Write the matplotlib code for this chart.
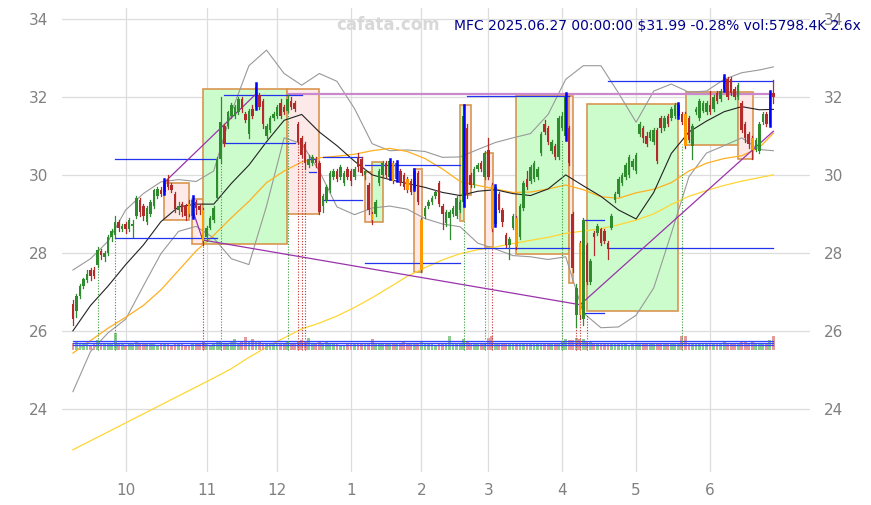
import matplotlib
matplotlib.use('Agg')
import matplotlib.pyplot as plt
from matplotlib.patches import Rectangle

# ---------------- data (trading-day index 0 = 2024-09-10 ... 199 = 2025-06-27) -------------
opens = [26.70, 26.50, 26.90, 27.15, 27.30, 27.55, 27.55, 27.70, 28.05, 27.90,
         28.00, 28.40, 28.45, 28.80, 28.60, 28.75, 28.60, 28.70, 28.95, 29.35,
         29.20, 28.80, 29.00, 29.20, 29.45, 29.60, 29.55, 29.90, 29.75, 29.50,
         29.10, 29.25, 29.20, 29.25, 28.95, 29.30, 29.20, 29.10, 28.40, 28.65,
         28.85, 29.40, 30.40, 31.25, 31.25, 31.50, 31.50, 31.60, 31.95, 31.55,
         31.05, 31.70, 31.75, 32.05, 31.90, 31.00, 31.15, 31.45, 31.50, 31.85,
         31.75, 31.65, 31.90, 31.85, 31.30, 30.95, 30.80, 30.25, 30.30, 30.40,
         30.30, 29.20, 29.35, 29.60, 29.95, 30.10, 29.95, 29.80, 30.15, 30.10,
         29.95, 30.45, 30.40, 30.00, 29.75, 29.00, 29.00, 29.80, 30.00, 30.30,
         29.95, 30.30, 29.90, 30.10, 30.00, 29.90, 29.85, 29.65, 30.05, 27.55,
         28.95, 29.20, 29.30, 29.45, 29.80, 29.20, 28.76, 28.90, 29.00, 28.95,
         29.10, 29.30, 31.20, 30.00, 29.75, 30.15, 30.30, 29.95, 30.65, 29.75,
         28.75, 29.50, 29.10, 28.45, 28.20, 28.65, 28.90, 28.40, 29.15, 29.90,
         29.85, 29.90, 29.95, 30.55, 31.30, 31.20, 30.60, 30.75, 30.45, 31.20,
         31.00, 31.20, 29.00, 26.40, 28.25, 26.30, 28.20, 27.25, 28.50, 28.50,
         28.60, 28.55, 28.25, 28.65, 29.35, 29.50, 29.80, 29.95, 30.00, 30.20,
         30.10, 31.05, 31.20, 31.00, 30.95, 30.85, 31.15, 31.45, 31.20, 31.50,
         31.45, 31.50, 31.50, 31.55, 31.55, 31.45, 30.75, 31.60, 31.45, 31.65,
         31.60, 31.80, 31.70, 32.10, 31.95, 32.20, 32.45, 32.45, 32.20, 32.00,
         31.85, 31.30, 31.05, 30.95, 30.65, 30.60, 31.35, 31.55, 31.30, 32.10]
highs = [26.80, 26.95, 27.20, 27.35, 27.55, 27.60, 27.65, 28.15, 28.10, 28.05,
         28.45, 28.60, 28.95, 28.85, 28.75, 28.80, 28.90, 28.85, 29.45, 29.40,
         29.25, 29.20, 29.35, 29.65, 29.70, 29.70, 29.90, 30.00, 29.80, 29.55,
         29.30, 29.30, 29.25, 29.35, 29.45, 29.35, 29.25, 29.15, 28.70, 28.95,
         29.20, 30.45, 32.00, 31.30, 31.65, 31.85, 31.80, 32.00, 32.00, 31.60,
         31.70, 31.80, 32.35, 32.10, 31.95, 31.30, 31.50, 31.60, 31.80, 31.95,
         31.80, 32.05, 32.00, 31.90, 31.35, 31.00, 30.85, 30.50, 30.50, 30.45,
         30.35, 29.50, 29.75, 30.10, 30.15, 30.15, 30.25, 30.10, 30.20, 30.15,
         30.20, 30.55, 30.45, 30.15, 29.80, 29.05, 29.35, 30.15, 30.35, 30.35,
         30.40, 30.35, 30.35, 30.15, 30.05, 29.95, 29.90, 30.15, 30.10, 28.90,
         29.20, 29.35, 29.45, 29.60, 29.85, 29.25, 29.10, 29.10, 29.20, 29.45,
         29.35, 31.80, 31.30, 30.05, 30.20, 30.30, 30.35, 30.60, 30.95, 29.80,
         29.75, 29.55, 29.15, 28.50, 28.40, 29.00, 28.95, 29.25, 29.85, 30.10,
         30.25, 30.35, 30.20, 31.10, 31.40, 31.25, 30.90, 30.80, 31.50, 31.60,
         32.10, 31.25, 29.05, 27.20, 28.30, 28.90, 28.25, 27.85, 28.55, 28.75,
         28.65, 28.60, 28.30, 29.00, 29.55, 29.95, 30.05, 30.30, 30.50, 30.40,
         30.55, 31.35, 31.25, 31.10, 31.15, 31.20, 31.20, 31.50, 31.50, 31.55,
         31.75, 31.85, 31.85, 31.60, 31.60, 31.50, 31.30, 31.75, 31.95, 31.90,
         31.90, 32.15, 32.05, 32.15, 32.20, 32.55, 32.50, 32.50, 32.25, 32.35,
         31.90, 31.35, 31.10, 31.00, 30.95, 31.35, 31.60, 31.60, 32.15, 32.43]
lows = [26.15, 26.35, 26.85, 27.10, 27.25, 27.30, 27.35, 27.65, 27.85, 27.80,
        27.95, 28.30, 28.40, 28.55, 28.55, 28.50, 28.55, 28.40, 28.90, 28.95,
        28.85, 28.75, 28.95, 29.15, 29.40, 29.45, 29.50, 29.65, 29.55, 29.05,
        29.00, 28.95, 28.85, 28.95, 28.90, 29.00, 29.00, 28.20, 28.30, 28.60,
        28.80, 29.35, 30.30, 30.75, 31.20, 31.45, 31.45, 31.55, 31.60, 31.35,
        30.95, 31.45, 31.70, 31.70, 31.20, 30.95, 31.10, 31.40, 31.45, 31.45,
        31.55, 31.60, 31.70, 31.65, 30.80, 30.45, 30.15, 30.20, 30.25, 30.20,
        29.00, 29.05, 29.30, 29.55, 29.90, 29.85, 29.90, 29.75, 29.90, 29.75,
        29.90, 30.10, 30.00, 29.90, 29.00, 28.75, 28.95, 29.75, 29.95, 29.95,
        29.90, 29.80, 29.85, 29.75, 29.65, 29.55, 29.50, 29.60, 29.25, 27.50,
        28.90, 29.15, 29.25, 29.40, 29.20, 28.60, 28.70, 28.35, 28.95, 28.90,
        29.05, 29.20, 29.40, 29.70, 29.70, 30.10, 30.10, 29.90, 29.90, 28.55,
        28.70, 29.05, 28.70, 28.15, 27.85, 28.60, 28.10, 28.35, 29.10, 29.65,
        29.80, 29.85, 29.90, 30.50, 31.05, 30.80, 30.55, 30.40, 30.40, 31.15,
        30.90, 30.25, 27.50, 26.10, 26.30, 26.15, 27.20, 27.20, 27.95, 28.45,
        28.20, 28.25, 27.85, 28.60, 29.30, 29.45, 29.75, 29.90, 29.95, 30.15,
        30.05, 31.00, 30.85, 30.75, 30.90, 30.80, 30.30, 31.10, 31.15, 31.25,
        31.40, 31.45, 31.45, 31.30, 30.70, 30.85, 30.40, 31.55, 31.40, 31.60,
        31.55, 31.55, 31.65, 31.85, 31.90, 32.15, 31.95, 32.05, 31.95, 31.95,
        31.10, 30.85, 30.70, 30.40, 30.60, 30.55, 31.30, 31.25, 31.25, 31.85]
closes = [26.30, 26.90, 27.15, 27.32, 27.45, 27.40, 27.40, 28.08, 27.95, 28.00,
          28.40, 28.55, 28.80, 28.65, 28.70, 28.60, 28.85, 28.75, 29.40, 29.05,
          28.95, 29.15, 29.30, 29.60, 29.65, 29.50, 29.80, 29.70, 29.60, 29.12,
          29.20, 29.05, 28.95, 29.00, 29.35, 29.15, 29.10, 28.30, 28.65, 28.90,
          29.15, 30.40, 31.35, 30.80, 31.60, 31.80, 31.75, 31.95, 31.70, 31.40,
          31.65, 31.50, 32.25, 31.75, 31.30, 31.25, 31.45, 31.55, 31.75, 31.50,
          31.60, 31.95, 31.75, 31.70, 30.85, 30.50, 30.30, 30.40, 30.45, 30.30,
          29.05, 29.45, 29.70, 30.05, 30.10, 29.90, 30.20, 30.05, 29.95, 29.85,
          30.15, 30.20, 30.05, 30.10, 29.10, 28.85, 29.30, 30.10, 30.30, 30.00,
          30.35, 29.85, 30.30, 29.80, 29.70, 29.60, 29.55, 30.10, 29.30, 28.85,
          29.15, 29.30, 29.40, 29.57, 29.25, 29.00, 29.05, 29.05, 29.15, 29.40,
          29.30, 31.50, 29.50, 29.75, 30.15, 30.25, 30.15, 30.55, 29.95, 28.60,
          29.70, 29.10, 28.80, 28.20, 28.35, 28.95, 28.15, 29.20, 29.80, 29.70,
          30.20, 30.30, 30.15, 31.05, 31.10, 30.85, 30.85, 30.45, 31.45, 31.50,
          32.00, 30.30, 27.60, 27.10, 26.40, 28.85, 27.25, 27.80, 28.40, 28.70,
          28.25, 28.30, 28.10, 28.95, 29.50, 29.90, 30.00, 30.25, 30.45, 30.35,
          30.50, 31.30, 30.95, 30.80, 31.10, 31.15, 30.35, 31.20, 31.45, 31.30,
          31.70, 31.80, 31.80, 31.35, 30.75, 30.90, 31.25, 31.70, 31.90, 31.85,
          31.85, 31.60, 32.00, 31.90, 32.15, 32.50, 32.00, 32.10, 32.00, 32.30,
          31.15, 30.95, 30.80, 30.65, 30.90, 31.30, 31.55, 31.30, 32.08, 31.99]
volumes = [2600, 3200, 2200, 2400, 2300, 2100, 2400, 4200, 2300, 2200,
           2600, 2400, 6800, 2500, 2300, 2100, 2200, 2400, 3000, 2600,
           2300, 2200, 2500, 2400, 2100, 2200, 2800, 2300, 2100, 2400,
           2200, 2300, 2100, 2000, 2600, 2300, 2200, 3400, 2300, 2100,
           2500, 3000, 3400, 2600, 2800, 3200, 4600, 2900, 3100, 5300,
           3000, 4600, 3600, 3300, 2900, 2800, 2600, 2500, 2400, 2600,
           2500, 3400, 2700, 2500, 3600, 3800, 3500, 4800, 2400, 2600,
           3300, 2500, 3700, 2300, 2200, 2400, 2100, 2000, 2300, 2500,
           2200, 2400, 2300, 2200, 2600, 4300, 2400, 2300, 2500, 2200,
           2400, 2600, 2300, 2200, 3200, 2300, 2400, 2500, 2600, 3600,
           2400, 2300, 2200, 2100, 2500, 2300, 2400, 5700, 2300, 2400,
           2600, 4300, 3400, 2500, 2300, 2200, 2400, 2600, 4800, 5600,
           2800, 2500, 2400, 2300, 2200, 2400, 2600, 2500, 2300, 2200,
           2400, 2300, 2200, 2500, 2400, 2300, 2200, 2400, 2600, 3000,
           4500, 3800, 4200, 4800, 4500, 4600, 3500, 3200, 2600, 2400,
           2300, 2400, 2200, 2500, 2300, 2200, 2400, 2300, 2100, 2400,
           2800, 2500, 2300, 2200, 2400, 2300, 2500, 2200, 2300, 2400,
           2200, 2300, 2800, 5700, 5500, 2600, 2300, 2200, 2400, 2300,
           2500, 2300, 2200, 2400, 2600, 3000, 2800, 2500, 2400, 2300,
           3400, 3000, 2700, 3200, 2600, 2500, 2800, 2900, 3800, 5798]

month_ticks = [15, 38, 58, 79, 99, 118, 139, 160, 181]
month_labels = ['10', '11', '12', '1', '2', '3', '4', '5', '6']

ma_idx = list(range(0, 200, 5)) + [199]
sma20 = [26.0, 26.65, 27.15, 27.7, 28.2, 28.8, 29.18, 29.25, 29.25, 29.78,
         30.25, 30.85, 31.4, 31.55, 31.1, 30.75, 30.35, 30.0, 29.88, 29.78,
         29.68, 29.55, 29.47, 29.58, 29.62, 29.52, 29.47, 29.64, 30.0, 29.72,
         29.45, 29.1, 28.87, 29.55, 30.55, 31.1, 31.38, 31.62, 31.75, 31.67, 31.68]
sma50 = [25.43, 25.75, 26.07, 26.35, 26.65, 27.05, 27.55, 28.05, 28.45, 28.9,
         29.32, 29.8, 30.1, 30.33, 30.44, 30.48, 30.53, 30.62, 30.68, 30.6,
         30.42, 30.15, 29.83, 29.73, 29.64, 29.55, 29.56, 29.64, 29.74, 29.62,
         29.44, 29.4, 29.54, 29.63, 29.8, 30.1, 30.3, 30.42, 30.49, 30.7, 31.07]
sma200 = [22.95, 23.18, 23.41, 23.64, 23.87, 24.1, 24.33, 24.56, 24.79, 25.03,
          25.32, 25.58, 25.82, 26.05, 26.2, 26.38, 26.6, 26.85, 27.12, 27.4,
          27.62, 27.82, 27.98, 28.08, 28.15, 28.24, 28.32, 28.4, 28.5, 28.56,
          28.62, 28.72, 28.84, 29.0, 29.24, 29.45, 29.6, 29.73, 29.84, 29.93, 30.0]
bb_upper = [27.56, 27.85, 28.3, 29.1, 29.52, 29.82, 29.88, 29.83, 30.1, 31.6,
            32.8, 33.2, 32.6, 32.3, 32.6, 32.4, 31.7, 30.8, 30.62, 30.64,
            30.6, 30.45, 30.46, 30.65, 30.83, 30.95, 31.06, 31.55, 32.45, 32.8,
            32.8, 32.1, 31.35, 32.15, 32.33, 32.12, 32.15, 32.45, 32.62, 32.69, 32.77]
bb_lower = [24.44, 25.47, 25.95, 26.3, 27.15, 27.98, 28.55, 28.68, 28.38, 27.85,
            27.7, 29.2, 30.95, 30.8, 30.1, 29.18, 28.98, 29.15, 29.2, 29.12,
            28.88, 28.74, 28.67, 28.25, 28.1, 27.93, 27.9, 27.83, 27.9, 26.46,
            26.08, 26.1, 26.4, 27.1, 28.5, 29.95, 30.56, 30.75, 30.95, 30.65, 30.62]

# zones: start idx, end idx, low, high, kind
zone_start = [25.9, 33.8, 36.9, 60.8, 83.0, 85.0, 96.9, 110.0, 111.1, 117.0, 125.9, 140.9, 146.0, 174.1, 188.9]
zone_end = [33.0, 36.9, 60.8, 69.9, 85.0, 88.1, 99.1, 111.1, 113.0, 119.3, 140.9, 142.0, 171.9, 188.9, 193.2]
zone_low = [28.85, 28.23, 28.23, 29.00, 28.80, 28.80, 27.50, 28.82, 29.49, 28.15, 27.97, 27.23, 26.51, 30.77, 30.41]
zone_high = [29.80, 29.38, 32.20, 32.20, 30.08, 30.33, 30.15, 31.80, 31.80, 30.56, 32.03, 32.03, 31.82, 32.13, 32.13]
zone_kind = ['bear', 'bear', 'bull', 'bear', 'bear', 'bull', 'bear', 'bull', 'bear', 'bear', 'bull', 'bear', 'bull', 'bull', 'bear']

# horizontal levels
lvl_start = [12, 12, 43, 43, 67, 67, 71, 71, 83, 83, 112, 112, 145, 145, 152, 152]
lvl_end = [41, 41, 65, 63, 69, 69, 82, 82, 110, 110, 141, 141, 151, 151, 199, 199]
lvl_price = [30.41, 28.38, 32.05, 30.82, 30.40, 30.08, 30.46, 29.36, 30.26, 27.74, 32.03, 28.12, 28.85, 26.46, 32.42, 28.12]

# trend lines (index, price)
trend1_x = [25.9, 52.3]
trend1_y = [29.80, 32.10]
trend2_x = [33.8, 36.9, 144.1, 199]
trend2_y = [29.15, 28.33, 26.67, 31.12]
resist_x = [61, 199]
resist_y = [32.07, 32.07]

# signal markers
sig_idx = [7, 12, 37, 42, 61, 64, 65, 66, 111, 117, 119, 139, 143, 144, 146, 173]
sig_top = [27.70, 28.40, 28.20, 30.30, 31.60, 30.80, 30.45, 30.15, 28.85, 28.15, 28.15, 30.90, 26.10, 26.30, 26.40, 30.80]
sig_kind = ['g', 'g', 'r', 'g', 'g', 'r', 'r', 'r', 'g', 'g', 'r', 'g', 'r', 'r', 'r', 'g']

blue_idx = [26, 34, 52, 90, 92, 97, 111, 120, 140, 172, 185, 198]
orange_idx = [33, 37, 85, 91, 95, 99, 119, 126, 144, 174, 193]

vol_levels = [25.75, 25.69, 25.64]

title = "MFC 2025.06.27 00:00:00 $31.99 -0.28% vol:5798.4K 2.6x"

# ---------------- drawing ----------------
W, H = 871, 505
fig = plt.figure(figsize=(W / 100, H / 100), dpi=100)
ax = fig.add_axes([62 / W, 1 - 472 / H, (810 - 62) / W, (472 - 8) / H])
ax.set_xlim(-3.1, 209.4)
ax.set_ylim(22.38, 34.28)

ax.set_yticks([24, 26, 28, 30, 32, 34])
ax.set_xticks(month_ticks)
ax.set_xticklabels(month_labels)
ax.tick_params(axis='both', length=0, labelcolor='#808080', labelsize=11)
ax.tick_params(axis='y', labelleft=True, labelright=True, pad=10)
ax.tick_params(axis='x', pad=8)
ax.grid(True, color='#dddddd', lw=0.9, zorder=0)
ax.set_axisbelow(True)
for s in ax.spines.values():
    s.set_visible(False)

UP = '#2e8b2e'
DN = '#b22a2a'
EDGE = '#d99550'

# zones
for s, e, lo, hi, k in zip(zone_start, zone_end, zone_low, zone_high, zone_kind):
    fc = '#ccfccc' if k == 'bull' else '#fde9e7'
    ax.add_patch(Rectangle((s, lo), e - s, hi - lo, facecolor=fc, edgecolor=EDGE, lw=1.2, zorder=1))

# moving averages & bands
ax.plot(ma_idx, bb_upper, color='#999999', lw=0.8, zorder=2)
ax.plot(ma_idx, bb_lower, color='#999999', lw=0.8, zorder=2)
ax.plot(ma_idx, sma200, color='#ffd633', lw=0.9, zorder=2)
ax.plot(ma_idx, sma50, color='#ffb020', lw=0.9, zorder=2)
ax.plot(ma_idx, sma20, color='#222222', lw=0.8, zorder=2)

# volume bars
vbase = 25.52
vscale = 0.46 / 7500.0
for i, v in enumerate(volumes):
    c = '#8fcc8f' if closes[i] >= opens[i] else '#e39c9c'
    ax.bar(i, v * vscale, bottom=vbase, width=0.8, color=c, zorder=2, lw=0)
for lv in vol_levels:
    ax.plot([0, len(volumes) - 1], [lv, lv], color='#3344ff', lw=0.9, zorder=3)

# signal dotted lines
for i, top, k in zip(sig_idx, sig_top, sig_kind):
    ax.plot([i, i], [vbase, top], color=('#3a9a3a' if k == 'g' else '#c03030'),
            lw=0.8, ls=(0, (1, 1.5)), zorder=3)

# level lines
for s, e, p in zip(lvl_start, lvl_end, lvl_price):
    ax.plot([s, e], [p, p], color='#2233ee', lw=0.9, zorder=4)

# trend lines
ax.plot(resist_x, resist_y, color='#cc88cc', lw=1.6, zorder=3)
ax.plot(trend1_x, trend1_y, color='#9933aa', lw=0.9, zorder=4)
ax.plot(trend2_x, trend2_y, color='#9933aa', lw=0.9, zorder=4)

# candles
for i in range(len(closes)):
    o, h, l, c = opens[i], highs[i], lows[i], closes[i]
    col = UP if c >= o else DN
    ax.plot([i, i], [l, h], color=col, lw=0.9, zorder=5)
    bot = min(o, c)
    ht = max(abs(c - o), 0.03)
    fc = '#ff9900' if i in orange_idx else col
    ax.bar(i, ht, bottom=bot, width=0.72, color=fc, lw=0, zorder=6)
    if i in blue_idx:
        ax.plot([i, i], [l, h], color='#0000ff', lw=1.8, zorder=7)

fig.text(0.988, 1 - 26 / H, title, ha='right', va='center', fontsize=10, color='#00008b', zorder=10)
fig.text(388 / W, 1 - 25 / H, 'cafata.com', ha='center', va='center', fontsize=12,
         fontweight='bold', color='#d8d8d8', zorder=9)

fig.savefig('out.png', dpi=100)
